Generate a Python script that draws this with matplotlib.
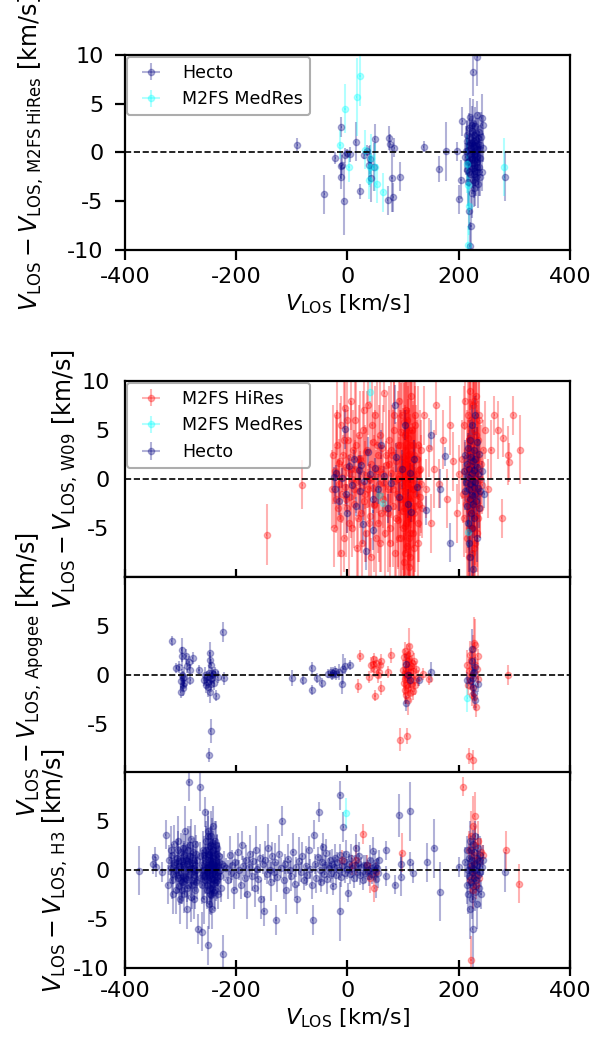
import numpy as np
import matplotlib
matplotlib.use('Agg')
import matplotlib.pyplot as plt

# ---- data: (V_LOS, delta V_LOS, error) ----
vlos_err = 1.0

# panel 1: comparison with M2FS HiRes
hires_cmp_hecto = [
    (-90, 0.8, 0.7), (-42, -4.3, 2.0), (-22, -0.6, 0.6), (-11, 2.6, 1.0), (-11, -1.4, 1.3),
    (-12, -2.5, 1.2), (-9, -1.3, 1.0), (-7, -5.0, 3.5), (-4, -0.3, 0.8), (0, -0.1, 0.5),
    (4, -0.2, 0.8), (15, 1.1, 2.0), (22, -4.0, 0.8), (30, -0.3, 0.4), (35, 0.2, 0.6),
    (38, -1.3, 2.0), (40, -0.7, 1.5), (49, 1.4, 1.5), (42, -2.6, 2.5), (47, -1.5, 2.5),
    (72, -4.9, 1.5), (75, 1.5, 1.2), (77, 0.9, 1.0), (80, -2.6, 3.5), (82, -4.6, 1.5),
    (84, 0.5, 1.0), (94, -2.5, 1.5), (137, 0.6, 0.6), (165, -1.7, 1.3), (177, 0.1, 3.0),
    (197, 0.1, 1.0), (200, -4.8, 1.5), (204, -2.8, 2.0), (206, 3.2, 1.5), (283, -2.5, 2.5),
    (212, -0.5, 1.5), (214, 1.2, 2.0), (215, -1.8, 1.5), (216, 0.3, 1.0), (217, -3.0, 2.5),
    (218, 2.5, 1.5), (218, -0.9, 1.0), (219, 0.8, 1.2), (220, -2.2, 1.8), (220, 1.6, 1.0),
    (221, -0.2, 0.8), (221, 3.6, 2.0), (222, -1.4, 1.2), (222, 0.5, 0.7), (223, -4.2, 2.5),
    (223, 2.2, 1.5), (224, -0.7, 1.0), (224, 1.0, 0.8), (225, -2.8, 1.5), (225, 0.1, 0.6),
    (226, 3.0, 2.5), (226, -1.1, 1.0), (227, 0.6, 1.0), (227, -3.6, 2.0), (228, 1.8, 1.2),
    (228, -0.3, 0.7), (229, -1.9, 1.5), (229, 2.7, 2.0), (230, 0.2, 0.9), (230, -0.8, 1.1),
    (231, -2.5, 2.0), (231, 1.3, 1.0), (232, -0.4, 1.5), (233, 3.8, 1.5), (233, -1.5, 1.2),
    (234, 0.9, 1.8), (235, -3.2, 2.5), (236, 0.4, 1.5), (237, 2.1, 2.0), (238, -0.6, 1.5),
    (240, 1.6, 2.5), (242, -2.0, 2.0), (243, 2.8, 1.0), (244, 0.5, 1.5), (226, 8.3, 2.5),
    (233, 9.8, 3.0), (220, -9.6, 2.5), (222, -7.5, 3.0), (219, -6.0, 2.0),
    (213, 0.2, 2.5), (215, 1.8, 1.5), (217, -1.0, 2.0), (219, -2.0, 1.5), (221, 1.0, 2.5),
    (223, -0.5, 1.5), (224, 2.8, 2.0), (225, -1.6, 2.0), (226, 0.8, 1.5), (227, -2.2, 2.5),
    (228, 1.2, 2.0), (229, -0.2, 1.5), (230, -3.0, 2.5), (231, 2.0, 1.5), (232, -1.0, 2.0),
    (233, 0.4, 1.5), (234, -2.0, 2.0), (235, 1.5, 2.0), (236, -1.5, 3.0), (238, 0.8, 2.0),
    (239, -2.5, 2.0), (241, 3.5, 2.5),
]
hires_cmp_medres = [
    (-4.5, 4.5, 2.5), (16.5, 5.7, 4.0), (22.5, 7.8, 3.0), (-13.5, 0.8, 1.5), (2.7, -1.5, 1.5),
    (31.5, 0.3, 2.0), (40.5, -1.5, 2.0), (43, -0.6, 2.5), (52.5, -3.2, 2.0), (64.4, -4.1, 2.0),
    (38, -2.8, 2.0), (49, -1.5, 2.5), (281.5, -1.5, 3.0), (214, -1.2, 3.0), (217, -3.3, 3.0),
    (219, -5.5, 3.0), (216, -9.5, 2.0),
]

# panel 2: comparison with W09
w09_hires = [
    (-145, -5.7, 3.1), (-81, -0.6, 2.5),
    (-22, 0.8, 2.5), (-20, -2.0, 3), (-18, 3.5, 3.5), (-16, -0.5, 2), (-15, 1.6, 2.5),
    (-13, -4.0, 4), (-12, 5.5, 3), (-10, 0.2, 1.5), (-9, -1.5, 3), (-8, 2.5, 2),
    (-6, -6.0, 3.5), (-5, 7.2, 3), (-4, -0.8, 2), (-2, 1.2, 4), (0, -3.0, 2.5),
    (1, 4.0, 3), (2, 0.6, 1.5), (4, -1.8, 3.5), (5, 2.2, 2), (6, 8.0, 3), (8, -5.0, 3),
    (9, 0.0, 2), (10, 3.0, 4), (12, -2.5, 2.5), (13, 1.0, 3), (14, 6.0, 4), (16, -0.3, 1.5),
    (17, -7.0, 3), (18, 2.0, 2.5), (20, -1.2, 3), (21, 4.5, 3), (22, 0.9, 2), (24, -3.5, 4),
    (25, 1.8, 2.5), (27, -0.6, 3), (28, 5.0, 4), (30, -2.2, 2), (31, 0.4, 3.5), (33, -5.5, 3),
    (34, 2.8, 2.5), (36, -1.0, 2), (37, 7.5, 3), (39, 0.1, 3), (40, -3.8, 3.5), (42, 1.5, 2.5),
    (43, -8.0, 2), (45, 3.8, 3), (46, -0.9, 2), (48, -2.7, 3), (50, 6.5, 3), (52, 0.5, 2.5),
    (54, -4.5, 3), (55, 2.4, 2), (57, -1.6, 3), (58, -6.5, 3), (60, 1.0, 2.5), (62, 3.2, 2.5),
    (63, -2.0, 3), (65, -0.4, 2), (66, 8.8, 2), (68, -3.0, 3), (70, 1.4, 2.5),
    (-28, -1.0, 4), (-26, 2.5, 5), (-24, -5.0, 4), (-21, 0.5, 6), (-19, 6.5, 4), (-17, -3.0, 5),
    (-14, 1.8, 6), (-11, -7.5, 4), (-7, 4.0, 6), (-3, -2.0, 6), (-1, 6.0, 5), (3, -4.5, 6),
    (7, 1.0, 7), (11, -1.0, 6), (15, 3.5, 7), (19, -4.0, 6), (23, 2.0, 7), (26, -6.5, 5),
    (29, 7.0, 5), (32, -1.5, 7), (35, 3.0, 6), (38, -4.5, 6), (41, 0.0, 8), (44, 5.5, 6),
    (47, -2.5, 7), (49, 1.0, 6), (51, -6.0, 5), (53, 3.5, 7), (56, -0.5, 8), (59, 4.5, 6),
    (61, -3.5, 6), (64, 0.5, 7), (67, -5.5, 5), (69, 2.5, 6),
    (72, -1.0, 4), (74, 4.0, 3), (76, -5.0, 4), (78, 0.6, 3), (80, 2.5, 5), (82, -2.8, 4),
    (84, 6.5, 4), (85, -0.2, 3), (86, -7.5, 3), (88, 1.8, 4), (89, -1.5, 5), (90, 3.5, 3),
    (91, -4.2, 5), (92, 0.3, 4), (93, 8.0, 3), (94, -2.0, 4), (95, 1.0, 6), (96, -6.0, 4),
    (97, 4.8, 5), (98, -0.7, 3), (99, 2.2, 5), (100, -3.3, 6), (100, 0.8, 4), (101, -8.5, 3),
    (102, 5.8, 4), (102, -1.2, 5), (103, 1.5, 6), (104, -4.8, 5), (104, 3.0, 4), (105, -0.3, 7),
    (105, -2.5, 5), (106, 7.0, 4), (106, 0.2, 6), (107, -6.8, 4), (107, 2.0, 5), (108, -1.8, 7),
    (108, 4.2, 4), (109, -3.8, 6), (109, 0.5, 5), (110, -9.0, 3), (110, 1.2, 6), (111, -0.9, 4),
    (111, 5.0, 5), (112, -5.5, 5), (112, 2.6, 4), (113, -2.2, 6), (114, 0.0, 5), (114, 8.5, 3),
    (115, -4.0, 5), (116, 1.7, 4), (117, -1.0, 6), (118, 3.5, 4), (119, -7.0, 4), (120, 0.4, 5),
    (121, -2.8, 4), (122, 5.5, 4), (123, -0.5, 3), (125, 2.0, 4), (126, -4.5, 4), (128, 0.9, 3),
    (130, -1.8, 4), (132, 3.0, 3), (134, -3.0, 3),
    (73, -3.5, 6), (75, 1.5, 8), (77, -6.5, 5), (79, 3.0, 7), (81, -1.0, 8), (83, 5.0, 6),
    (87, -4.0, 7), (90, 0.0, 9), (92, -6.0, 6), (94, 3.5, 8), (96, -2.0, 9), (98, 6.5, 6),
    (99, -5.0, 7), (101, 0.0, 10), (102, -3.0, 8), (103, 4.5, 7), (104, -7.5, 5), (105, 1.5, 9),
    (106, -4.5, 8), (107, 6.0, 6), (108, -0.5, 10), (109, 2.5, 8), (110, -6.0, 7),
    (111, -2.0, 9), (112, 3.5, 8), (113, -8.0, 5), (114, 1.0, 9), (115, -3.0, 8), (116, 5.0, 7),
    (117, -5.5, 7), (118, -1.0, 9), (119, 2.5, 8), (120, -3.5, 7), (121, 6.5, 5), (122, -1.5, 8),
    (124, 0.5, 7), (126, -6.5, 5), (127, 3.5, 6), (129, -2.5, 6), (131, 1.0, 6), (133, -0.5, 5),
    (138, 6.5, 3), (142, -1.0, 3), (146, 3.2, 3), (150, -4.5, 3), (155, 1.0, 4), (160, 7.5, 3),
    (165, -0.5, 2.5), (172, 4.0, 3), (178, -2.0, 3), (185, 5.5, 3), (190, 1.8, 3),
    (196, -3.5, 3), (200, 0.5, 3),
    (206, 2.0, 4), (208, -1.5, 3), (209, 5.5, 4), (210, -4.0, 4), (211, 0.8, 3), (212, 8.0, 3),
    (213, -2.5, 5), (214, 3.0, 4), (215, -6.0, 4), (215, 1.2, 3), (216, -0.5, 5), (217, 6.5, 4),
    (218, -3.2, 4), (218, 2.4, 3), (219, -8.0, 3), (219, 0.0, 5), (220, 4.2, 4), (221, -1.8, 5),
    (221, 9.0, 2), (222, 1.6, 4), (223, -5.0, 5), (223, -0.3, 3), (224, 3.6, 5), (225, -2.0, 4),
    (225, 7.5, 3), (226, 0.7, 5), (227, -7.0, 4), (227, -1.0, 4), (228, 5.0, 5), (229, 1.9, 3),
    (229, -3.8, 5), (230, -0.2, 4), (231, 8.5, 3), (232, 2.6, 5), (232, -2.6, 4), (233, -5.5, 4),
    (234, 0.9, 5), (235, 4.0, 4), (236, -1.4, 4), (237, 6.0, 4), (238, -3.0, 3), (240, 1.5, 4),
    (242, -0.6, 3), (244, 3.0, 3),
    (216, -2.0, 8), (218, 4.0, 7), (219, -5.0, 7), (220, 1.0, 9), (221, -3.5, 8), (222, 6.0, 6),
    (223, -7.5, 6), (224, -1.0, 9), (225, 3.0, 8), (226, -5.0, 8), (227, 8.0, 4), (228, -2.5, 9),
    (229, 0.5, 10), (230, -6.5, 6), (231, 4.5, 7), (232, -1.0, 8), (233, 2.0, 9), (234, -4.0, 7),
    (236, 6.5, 5), (238, 0.0, 6),
    (248, 5.0, 3), (252, -1.0, 3), (258, 3.0, 3), (264, 6.5, 2), (270, 5.0, 3), (277, -4.0, 2),
    (280, 4.2, 2), (289, 2.4, 3), (290, 1.7, 2), (298, 6.5, 2), (310, 3.0, 3.5),
]
w09_medres = [(40, 8.9, 1.0), (57, -1.6, 1.0), (64, -2.4, 1.0), (217, -5.4, 1.5)]
w09_hecto = [
    (-25, 0.2, 1), (-23, -1.0, 1.5), (-20, 0.6, 0.8), (-15, -2.2, 1.5), (-10, 0.1, 1),
    (-5, 5.1, 2), (-3, -1.5, 1), (0, -3.5, 2), (3, 1.3, 1.2), (8, -0.6, 1.5), (12, 2.0, 1),
    (15, -2.8, 1), (20, 0.9, 1.5), (22, -1.2, 2), (25, 1.4, 1), (28, -4.6, 2), (30, -0.2, 1),
    (33, -7.3, 2), (36, 2.8, 1.5), (40, 0.5, 1), (45, -2.0, 1.5), (46, -5.2, 2), (50, 1.1, 1),
    (55, -1.0, 1.5), (60, 3.5, 1.5), (66, 0.3, 1), (72, -3.0, 1.5), (78, -0.4, 1), (85, 7.6, 2),
    (88, 2.2, 1.5), (92, -1.8, 1.5), (98, 1.0, 2), (104, 5.5, 1.5), (108, -2.5, 1.5),
    (112, 0.6, 1), (115, -3.4, 1), (120, 2.0, 2), (125, -0.8, 1), (142, -3.2, 1.5),
    (150, 4.5, 1.5), (166, -1.0, 2), (175, 2.3, 1), (184, -6.5, 2),
    (210, 0.8, 1.5), (211, -1.2, 2), (212, 2.5, 1.5), (213, -0.3, 1), (214, -2.8, 2),
    (215, 1.5, 1), (216, -4.5, 2.5), (216, 0.2, 1), (217, 3.2, 1.5), (218, -1.0, 1.2),
    (218, -6.5, 3), (219, 1.0, 1), (220, -2.0, 1.5), (220, 4.0, 2), (221, -0.5, 1),
    (221, -8.0, 3), (222, 2.2, 1.5), (222, -3.5, 2), (223, 0.6, 1), (223, -1.6, 1.2),
    (224, 5.5, 2), (224, -5.0, 2.5), (225, -0.2, 1), (225, 1.8, 1.5), (226, -2.6, 1.5),
    (226, -9.2, 2), (227, 3.0, 2), (227, -0.8, 1), (228, 0.9, 1.2), (228, -4.0, 2),
    (229, -1.5, 1.5), (229, 2.0, 1), (230, 6.5, 2), (230, -0.3, 1), (231, -2.2, 1.5),
    (232, 1.2, 1), (233, -6.0, 2.5), (233, 3.8, 1.5), (234, -0.9, 1.2), (235, 0.5, 1),
    (236, -3.0, 2), (237, 2.6, 1.5), (239, -1.2, 1.5), (241, 0.8, 1), (246, -1.5, 1.5),
]

# panel 3: comparison with Apogee
apogee_hires = [
    (22.5, 1.9, 0.6), (19.5, -1.1, 0.7), (39, -0.2, 0.6), (43, 1.0, 0.8), (46, 1.15, 0.8),
    (47, 1.6, 0.6), (48, 0.6, 0.8), (49.5, -2.1, 0.6), (51, 1.2, 0.6), (54, 0.0, 0.8),
    (56, 0.3, 0.6), (58, 1.0, 0.6), (60, -1.3, 0.7), (61, 1.4, 0.7), (73.5, 0.3, 0.6),
    (78, 2.0, 0.8), (94.5, -6.6, 1.2), (106.5, -6.2, 0.8),
    (100, 0.5, 1.0), (101, -0.8, 1.2), (102, 1.8, 0.8), (103, -1.5, 1.5), (103, 0.2, 0.6),
    (104, 2.4, 1.0), (104, -0.4, 0.8), (105, 1.0, 1.2), (105, -2.0, 1.0), (106, 0.6, 0.8),
    (106, -1.0, 1.5), (107, 2.0, 1.2), (107, -0.2, 0.6), (108, -2.6, 1.5), (108, 1.4, 0.8),
    (109, 0.0, 1.0), (109, -1.3, 0.8), (110, 3.0, 1.8), (110, 0.8, 1.0), (111, -0.6, 1.2),
    (111, 1.6, 0.8), (112, -1.8, 1.0), (112, 0.3, 0.6), (113, 2.2, 1.0), (114, -0.9, 1.2),
    (114, 0.9, 0.8), (115, -0.2, 1.0), (116, 1.2, 0.8), (117, -1.6, 1.0), (118, 0.4, 0.8),
    (119, -0.5, 1.2), (120, 1.4, 0.8), (122, -1.0, 1.0), (124, 0.6, 0.8), (126, -0.3, 0.8),
    (135, 0.1, 0.6), (146.5, -0.4, 0.6),
    (215, 1.0, 1.5), (217, -1.0, 1.0), (219, 0.4, 1.2), (220, 2.0, 1.5), (221, -0.5, 1.0),
    (222, 1.5, 1.0), (223, -2.0, 1.2), (224, 0.0, 1.0), (225, -1.3, 1.0), (226, 2.6, 1.5),
    (227, -2.2, 1.2), (228, 3.3, 2.6), (229, 3.1, 2.6), (230, 1.0, 1.2), (231, -3.3, 1.0),
    (232, 0.6, 1.0), (234, 1.9, 0.8), (235, -0.4, 0.8), (219, -8.3, 0.8), (225, -8.7, 1.0),
    (289, 0.0, 1.0),
]
apogee_medres = [(215, -2.3, 1.5)]
apogee_hecto = [
    (-316, 3.5, 0.5), (-308, 0.7, 0.5), (-302, 0.8, 0.6), (-300, -1.7, 0.6), (-299, -0.6, 0.8),
    (-298, 2.55, 1.2), (-297, 1.9, 1.0), (-297, 0.0, 0.6), (-296, -0.35, 0.8), (-296, -1.3, 0.8),
    (-295, -1.0, 0.6), (-294, -0.2, 1.0), (-293, -0.8, 0.5), (-290, 1.9, 0.8), (-288, 0.9, 0.7),
    (-285, 1.3, 0.6), (-284, 0.5, 0.6), (-283, -0.5, 0.5), (-278, 1.7, 0.6), (-267, 0.55, 0.5),
    (-258, -0.5, 0.6), (-256, 0.0, 0.8), (-254, -1.0, 0.8), (-253, -0.7, 0.6), (-252, -0.2, 0.6),
    (-250, -1.2, 1.0), (-249, 0.2, 0.8), (-248, -1.7, 1.2), (-247.5, 2.2, 1.2), (-247, 1.5, 0.8),
    (-246, -0.4, 0.6), (-245, 1.0, 0.6), (-245, -0.9, 0.8), (-244, 0.2, 0.6), (-243, -0.3, 0.6),
    (-241, 0.1, 0.5), (-240, -0.8, 0.7), (-238, 0.3, 0.5), (-236, -2.1, 0.6), (-233, -0.2, 0.6),
    (-224, 4.4, 1.0), (-222, -0.35, 0.7), (-245.5, -5.7, 1.2), (-248.5, -8.2, 0.7),
    (-100, -0.3, 0.8), (-80.6, -0.5, 0.5), (-64, 0.7, 0.6), (-64, -1.5, 0.5), (-55, -0.3, 0.5),
    (-46, -0.8, 0.5), (-34.5, 0.15, 0.5), (-30, 0.3, 0.5), (-28, 0.0, 0.5), (-26, 0.25, 0.6),
    (-23, 0.4, 0.5), (-20, 0.1, 0.6), (-15, 0.3, 0.8), (-10.5, -0.9, 1.0), (-8, 0.6, 1.5),
    (-4.6, 0.9, 0.8), (4.5, 1.0, 0.5),
    (106, 1.1, 1.0), (105, -2.9, 0.8), (108, 0.0, 0.6), (112, -0.5, 0.8), (128.6, -0.5, 0.6),
    (149.6, 0.3, 1.0), (223, 2.7, 2.0), (224, 1.4, 1.0), (225, -0.3, 1.0), (215.6, -0.5, 0.8),
    (226, -1.2, 1.0), (229, -2.6, 1.0), (234, -0.9, 0.8), (228, 0.3, 0.7), (222, -0.6, 0.8),
    (227, -1.8, 0.8), (230, 0.8, 1.0), (226, 0.2, 0.6),
]

# panel 4: comparison with H3
h3_hires = [
    (-10, 1.0, 1), (8, 0.5, 1), (15, 1.0, 1.5), (28.5, 3.7, 1), (35, 0.5, 1), (40, -0.8, 1.5),
    (48, -1.8, 1.5), (52, -0.2, 1), (98, 1.75, 2), (208, 8.5, 1), (222, -9.2, 2.5),
    (285, 2.0, 2), (309, -1.4, 2),
    (218, 2.0, 2), (220, -1.0, 1.5), (222, 3.5, 2.5), (224, 0.5, 1.5), (225, -2.0, 2),
    (226, 4.5, 3), (227, 1.5, 1.5), (228, -0.5, 1.5), (229, 5.5, 2.5), (230, 2.5, 2),
    (231, -1.5, 1.5), (232, 1.0, 1), (234, 3.0, 2), (236, -0.8, 1.5), (240, 1.8, 1.5),
    (244, 1.5, 1),
]
h3_medres = [(-3, 5.8, 1.5)]
h3_hecto = [
    (-374.5, -0.1, 2.5), (-349, 0.6, 1), (-346, 1.3, 1), (-344, 0.3, 1), (-333, -0.2, 1),
    (-327, 3.6, 1.5), (-323, -1.5, 2), (-320, 1.0, 1.5),
    (-318, 0.2, 1.5), (-316, -1.0, 2), (-315, 1.5, 1.2), (-313, -0.4, 1), (-312, 2.6, 2),
    (-310, 0.8, 1.5), (-309, -2.0, 2.5), (-308, 0.0, 1), (-306, 1.2, 2), (-305, -0.8, 1.5),
    (-304, 3.0, 2.5), (-303, -1.6, 2), (-302, 0.4, 1), (-301, -3.0, 2.5), (-300, 1.8, 2),
    (-299, -0.2, 1.5), (-298, 0.9, 1), (-297, -1.2, 2), (-296, 2.2, 1.5), (-295, -0.6, 1),
    (-294, 0.3, 2.5), (-293, -2.4, 2), (-292, 4.0, 2.5), (-291, 1.0, 1.5), (-290, -0.9, 1),
    (-289, -4.0, 2), (-288, 0.6, 2), (-287, 2.0, 2.5), (-286, -1.5, 1.5), (-285, 0.1, 1),
    (-285, 9.0, 2), (-284, -0.4, 2), (-283, 1.4, 1.5), (-282, -2.8, 2.5), (-281, 3.2, 2),
    (-280, 0.7, 1), (-279, -1.0, 1.5), (-278, 0.2, 2), (-277, 1.8, 1.5), (-276, -0.5, 1),
    (-275, -2.0, 2), (-274, 2.6, 2), (-273, 0.0, 1.5), (-272, -1.2, 1), (-271, 1.0, 2),
    (-270, -0.3, 1.5), (-268, -6.0, 1.5), (-266, 1.4, 1.5), (-265, 8.5, 2.5), (-264, -0.8, 1),
    (-262, -6.3, 2),
    (-317, 2.0, 2.5), (-314, -2.5, 2), (-311, 0.5, 1), (-307, -0.5, 2), (-305, 2.0, 2),
    (-303, 0.9, 1.5), (-300, -1.0, 2.5), (-298, -2.0, 1.5), (-296, 0.5, 2), (-294, 1.5, 1.5),
    (-292, -0.8, 2), (-290, 1.2, 2.5), (-288, -1.8, 1.5), (-286, 0.9, 2), (-284, 2.5, 2),
    (-282, 0.2, 1.5), (-280, -1.5, 2.5), (-278, 1.0, 1.5), (-276, -3.0, 2), (-274, 0.5, 1),
    (-272, 1.6, 2), (-270, -1.0, 2),
    (-262, 0.5, 1.5), (-261, -1.5, 2), (-260, 2.0, 2), (-259, 0.0, 1), (-258, -3.0, 2.5),
    (-257, 1.2, 1.5), (-256, 5.9, 1.5), (-256, -0.6, 1), (-255, 3.0, 2), (-254, 0.8, 1.5),
    (-253, -2.0, 2), (-252, -0.2, 1), (-251.5, -7.7, 2), (-251, 1.6, 2), (-250, -1.0, 1.5),
    (-250, 4.0, 2), (-249, 0.3, 1), (-249, -3.5, 2.5), (-248, 2.4, 2), (-248, -0.5, 1),
    (-247, 1.0, 1.5), (-247, -1.8, 2), (-246, 3.5, 2.5), (-246, 0.0, 1), (-245, -2.6, 2),
    (-245, 1.8, 1.5), (-244, 0.6, 1), (-244, -0.9, 1.5), (-243, 2.8, 2.5), (-243, -4.0, 2),
    (-242, 0.2, 1), (-242, 1.2, 2), (-241, -1.4, 1.5), (-241, 4.5, 2), (-240, 0.5, 1),
    (-240, -2.2, 2), (-239, 1.6, 1.5), (-238, -0.4, 1), (-238, 3.0, 2), (-237, 0.9, 1.5),
    (-236, -1.2, 2), (-235, 2.2, 1.5), (-234, -0.6, 1), (-233, 0.4, 2), (-232, -2.5, 1.5),
    (-231, 1.4, 1.5), (-230, 0.0, 1), (-228, -1.8, 1.5), (-226, 0.6, 1), (-224, -8.6, 2),
    (-222, 0.4, 1.5),
    (-260, -0.5, 2.5), (-258, 1.5, 2), (-257, -1.0, 1.5), (-255, -0.3, 2), (-254, 2.0, 2.5),
    (-253, 0.5, 1.5), (-252, -1.5, 2), (-251, 3.5, 2), (-250, 0.3, 2), (-249, 1.5, 2.5),
    (-248, -2.5, 2), (-247, 0.6, 1.5), (-246, -0.8, 2.5), (-245, 2.5, 2), (-244, -1.8, 2),
    (-243, 0.9, 1.5), (-242, -0.3, 2.5), (-241, 2.0, 2), (-240, -1.0, 1.5), (-239, 0.3, 2),
    (-238, -2.0, 2), (-237, 2.5, 2.5), (-236, 0.4, 1.5), (-235, -1.0, 2), (-234, 1.6, 2),
    (-233, -0.2, 1.5), (-231, 0.8, 2), (-229, -0.6, 2),
    (-218, 0.2, 1), (-215, -1.0, 2), (-212, 1.5, 2), (-210, -0.3, 1), (-207, 0.5, 1.5),
    (-204, -2.0, 2), (-202, 0.8, 1), (-200, -0.5, 1.5), (-197, 1.8, 2), (-195, 0.0, 1),
    (-192, -1.5, 1.5), (-190, 2.5, 1.5), (-187, 0.4, 1), (-185, -0.8, 2), (-182, 1.0, 1.5),
    (-180, -2.5, 2.5), (-177, 0.3, 1), (-175, 1.6, 2), (-172, -0.6, 1.5), (-170, 0.9, 1),
    (-167, -1.8, 2), (-165, 2.0, 2.5), (-162, 0.1, 1), (-160, -0.9, 1.5), (-157, 1.2, 1.5),
    (-155, -3.0, 2), (-152, 0.6, 1), (-150, -4.2, 1.5), (-148, 1.0, 2), (-145, -0.4, 1),
    (-142, 2.2, 2.5), (-140, 0.0, 1), (-138, -1.2, 2), (-135, 1.4, 1.5), (-132, -0.2, 1),
    (-130, 0.8, 2), (-128.6, -5.1, 1.5), (-126, -0.7, 1.5), (-123, 1.6, 2), (-120, 0.2, 1),
    (-117, 5.0, 1.5), (-115, -1.0, 2), (-112, 0.6, 1), (-110, -2.0, 2.5), (-107, 1.1, 1.5),
    (-104, 0.0, 1), (-101, -0.6, 1.5), (-98, 1.8, 2), (-95, -1.4, 1.5), (-92, 0.3, 1),
    (-90, -3.0, 1.5), (-87, 0.9, 2.5), (-84, -0.2, 1), (-81, 1.4, 1.5), (-78, -1.0, 1),
    (-75, 0.4, 2), (-72, -0.5, 1), (-70, 2.0, 1.5), (-67, 0.1, 1), (-64, -1.5, 1.5),
    (-62.6, -5.1, 1.5), (-60.6, 3.6, 1.5), (-58, 0.6, 1), (-56, -0.8, 1.5), (-53, 1.3, 1),
    (-52, 5.9, 1), (-50, 0.0, 1.5), (-48, -1.2, 1), (-46, 0.8, 2), (-44, 2.3, 1.5),
    (-42, -0.4, 1), (-40, 0.5, 1), (-38, 1.7, 1.5), (-36, -0.9, 1.5), (-34, 0.2, 1),
    (-32, 1.0, 1), (-30, -0.3, 1), (-28, 0.6, 1.5), (-26, -1.6, 1), (-24, 0.3, 1),
    (-22, 1.2, 1.5), (-20, -0.5, 1), (-18, 0.8, 1), (-16, 0.0, 1), (-14, 1.5, 1.2),
    (-13.5, 7.6, 1.5), (-13, -4.2, 3), (-12, -0.7, 1), (-10, 0.4, 1), (-7.5, 4.4, 1.5),
    (-6, 0.9, 1), (-4, -0.3, 1), (-2, 1.6, 1.5), (0, 0.1, 1), (1.5, -2.3, 1), (3, 0.6, 1),
    (5, -0.4, 1), (7, 1.2, 1.5), (9, 0.2, 1), (11, -0.8, 1), (13, 0.5, 1), (15.3, 2.2, 1.5),
    (17, -0.2, 1), (19, 0.7, 1), (21, 1.4, 1.5), (23, -0.5, 1), (25, 0.3, 1), (27, -1.0, 1),
    (30, 0.5, 1), (32, -0.3, 1), (34, 0.5, 1), (36, 0.0, 1), (38, -0.6, 1), (40, 1.0, 1.5),
    (42, 0.2, 1), (44, -0.4, 1), (46, 1.9, 1.5), (48, 0.0, 1), (50, 0.4, 1.5), (51, -0.9, 2),
    (53, 0.2, 1), (55, -0.3, 1.5), (56, 1.0, 1),
    (69, 2.0, 1), (69, -0.6, 1), (85.5, -1.5, 1), (93, 5.6, 2.2), (97, 0.6, 1), (96.5, -0.7, 2),
    (112, 6.0, 3), (113, 0.8, 1), (117.6, -0.3, 1), (143.6, 0.8, 2), (155.6, 2.2, 3),
    (166, -2.2, 3), (200.5, 0.3, 1), (283, -0.2, 2),
    (212, 0.8, 1.5), (214, -1.5, 2), (215, 2.0, 1.5), (216, 0.0, 1), (217, -2.5, 2),
    (218, 1.2, 1.5), (219, -0.6, 1), (220, 3.0, 2), (220, -4.0, 3), (221, 0.4, 1),
    (222, -1.2, 1.5), (222, 2.0, 1.5), (223, -0.2, 1), (224, 1.0, 1), (224, -3.0, 2),
    (225, 0.2, 1), (225, -6.0, 4), (226, 2.6, 1.5), (226, -1.6, 1.5), (227, 0.6, 1),
    (228, -0.8, 1), (228, 1.8, 1.5), (229, -2.2, 2), (230, 0.0, 1), (230, 3.5, 1.5),
    (231, -1.0, 1), (232, 1.2, 1.5), (232, -3.5, 2.5), (233, 0.5, 1), (234, -0.5, 1.5),
    (235, 2.2, 1.5), (236, -1.8, 2), (237, 0.9, 1), (238, -0.2, 1.5), (239, 1.5, 2),
    (240, -2.5, 1.5), (242, 0.3, 1), (244, 1.0, 1.5),
]

plt.rcParams['font.size'] = 16
plt.rcParams['axes.unicode_minus'] = False
plt.rcParams['axes.linewidth'] = 1.6


def plot_set(ax, pts, color, label):
    pts = np.array(pts, dtype=float)
    ax.errorbar(pts[:, 0], pts[:, 1], xerr=vlos_err, yerr=pts[:, 2], fmt='o', ms=4.5,
                color=color, alpha=0.3, elinewidth=1.5, capsize=0, label=label)


def finish(ax):
    ax.axhline(0, color='k', ls='--', lw=1.2, zorder=10)
    ax.set_xlim(-400, 400)
    ax.set_ylim(-10, 10)


fig = plt.figure(figsize=(5.94, 10.53), dpi=100)

# top panel
ax1 = fig.add_axes([0.2104, 0.7626, 0.7492, 0.1852])
plot_set(ax1, hires_cmp_hecto, 'navy', 'Hecto')
plot_set(ax1, hires_cmp_medres, 'cyan', 'M2FS MedRes')
finish(ax1)
ax1.set_xticks([-400, -200, 0, 200, 400])
ax1.set_yticks([-10, -5, 0, 5, 10])
ax1.tick_params(direction='out', length=7.5, width=1.6)
ax1.tick_params(axis='y', pad=8)
ax1.tick_params(axis='x', pad=5)
ax1.set_xlabel(r'$V_{\rm LOS}$ [km/s]')
ax1.set_ylabel(r'$V_{\rm LOS} - V_{\rm LOS,\,M2FS\,HiRes}$ [km/s]', fontsize=17)
ax1.yaxis.set_label_coords(-0.178, 0.5)
leg = ax1.legend(loc='upper left', fontsize=12.5, borderaxespad=0.1, framealpha=0.8,
                 edgecolor='0.6')
leg.get_frame().set_linewidth(1.5)

# stacked panels
bottoms = [0.4520, 0.2659, 0.0807]
height = 0.1862
sets = [(w09_hires, w09_medres, w09_hecto),
        (apogee_hires, apogee_medres, apogee_hecto),
        (h3_hires, h3_medres, h3_hecto)]
ylabels = [r'$V_{\rm LOS} - V_{\rm LOS,\,W09}$ [km/s]',
           r'$V_{\rm LOS} - V_{\rm LOS,\,Apogee}$ [km/s]',
           r'$V_{\rm LOS} - V_{\rm LOS,\,H3}$ [km/s]']
label_x = [-0.10, -0.178, -0.124]
yticks = [[-5, 0, 5, 10], [-5, 0, 5], [-10, -5, 0, 5]]

axes = []
for i in range(3):
    ax = fig.add_axes([0.2104, bottoms[i], 0.7492, height])
    hi, med, hec = sets[i]
    plot_set(ax, hi, 'red', 'M2FS HiRes')
    plot_set(ax, med, 'cyan', 'M2FS MedRes')
    plot_set(ax, hec, 'navy', 'Hecto')
    finish(ax)
    ax.set_xticks([-400, -200, 0, 200, 400])
    ax.set_yticks(yticks[i])
    ax.tick_params(axis='x', direction='inout', length=11, width=1.6)
    ax.tick_params(axis='y', length=0, pad=11)
    ax.set_ylabel(ylabels[i], fontsize=17)
    ax.yaxis.set_label_coords(label_x[i], 0.5)
    if i < 2:
        ax.tick_params(axis='x', labelbottom=False)
    axes.append(ax)

axes[2].set_xlabel(r'$V_{\rm LOS}$ [km/s]')
leg = axes[0].legend(loc='upper left', fontsize=12.5, borderaxespad=0.1, framealpha=0.8,
                     edgecolor='0.6')
leg.get_frame().set_linewidth(1.5)

fig.savefig('out.png', dpi=100)
